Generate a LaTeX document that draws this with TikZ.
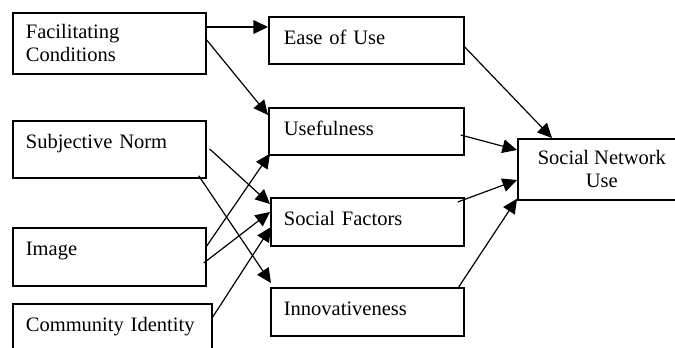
\documentclass[tikz,border=0pt]{standalone}
\usepackage{fontspec}
\setmainfont{Liberation Serif}
\usetikzlibrary{arrows.meta,calc}
\newlength{\pxu}
\setlength{\pxu}{0.585pt}

\begin{document}
\begin{tikzpicture}[
    x = 0.585pt, y = -0.585pt,
    > = {Triangle[length=8.5pt, width=8pt]},
    line width = 0.7pt,
    font = \fontsize{12}{13.5}\selectfont,
    box/.style={draw, line width=1pt, anchor=north west},
    factor/.style={box, inner xsep=13\pxu, inner ysep=0pt, text height=27.5\pxu, align=left}
]
    \clip (0,0) rectangle (675,347);

    % left column
    \node[box, inner xsep=13\pxu, text width=167\pxu, minimum height=61\pxu, align=left] (fc) at (12,12) {Facilitating\\Conditions};
    \node[factor, text width=167\pxu, text depth=29.5\pxu] (sn) at (12,120) {Subjective Norm};
    \node[factor, text width=167\pxu, text depth=30.5\pxu] (img) at (12,227) {Image};
    \node[factor, text width=173\pxu, text depth=40\pxu] (ci) at (12,303) {Community Identity};

    % middle column
    \node[factor, inner xsep=15\pxu, text width=165\pxu, text depth=19.5\pxu] (ease) at (268,16) {Ease of Use};
    \node[factor, inner xsep=15\pxu, text width=165\pxu, text depth=19.5\pxu] (use) at (268,107) {Usefulness};
    \node[factor, text width=167\pxu, text depth=20.5\pxu] (sf) at (270,197) {Social Factors};
    \node[factor, text width=167\pxu, text depth=20.5\pxu] (inn) at (270,287) {Innovativeness};

    % outcome
    \node[box, minimum width=168\pxu, minimum height=61\pxu, align=center] (snu) at (517,138) {Social Network\\Use};

    \draw[->] ($(fc.north east)+(0,15)$) -- ($(ease.north west)+(0,11)$);
    \draw[->] ($(fc.north east)+(0,28)$) -- ($(use.north west)+(0,8)$);
    \draw[->] ($(sn.north east)+(3,29)$) -- ($(sf.north west)+(0,7)$);
    \draw[->] ($(sn.south east)+(-8,-3)$) -- ($(inn.north west)+(1,-4)$);
    \draw[->] ($(img.north east)+(0,19)$) -- ($(use.south west)+(2,-2)$);
    \draw[->] ($(img.north east)+(-3,36)$) -- ($(sf.north west)+(0,15)$);
    \draw[->] ($(ci.north east)+(0,14)$) -- ($(sf.north west)+(1,30)$);

    \draw[->] ($(ease.north east)+(0,31)$) -- ($(snu.north west)+(35,0)$);
    \draw[->] ($(use.north east)+(-4,28)$) -- ($(snu.north west)+(0,12)$);
    \draw[->] ($(sf.north east)+(-7,5)$) -- ($(snu.north west)+(0,42)$);
    \draw[->] ($(inn.north east)+(-6,0)$) -- ($(snu.south west)+(0,-2)$);
\end{tikzpicture}
\end{document}
